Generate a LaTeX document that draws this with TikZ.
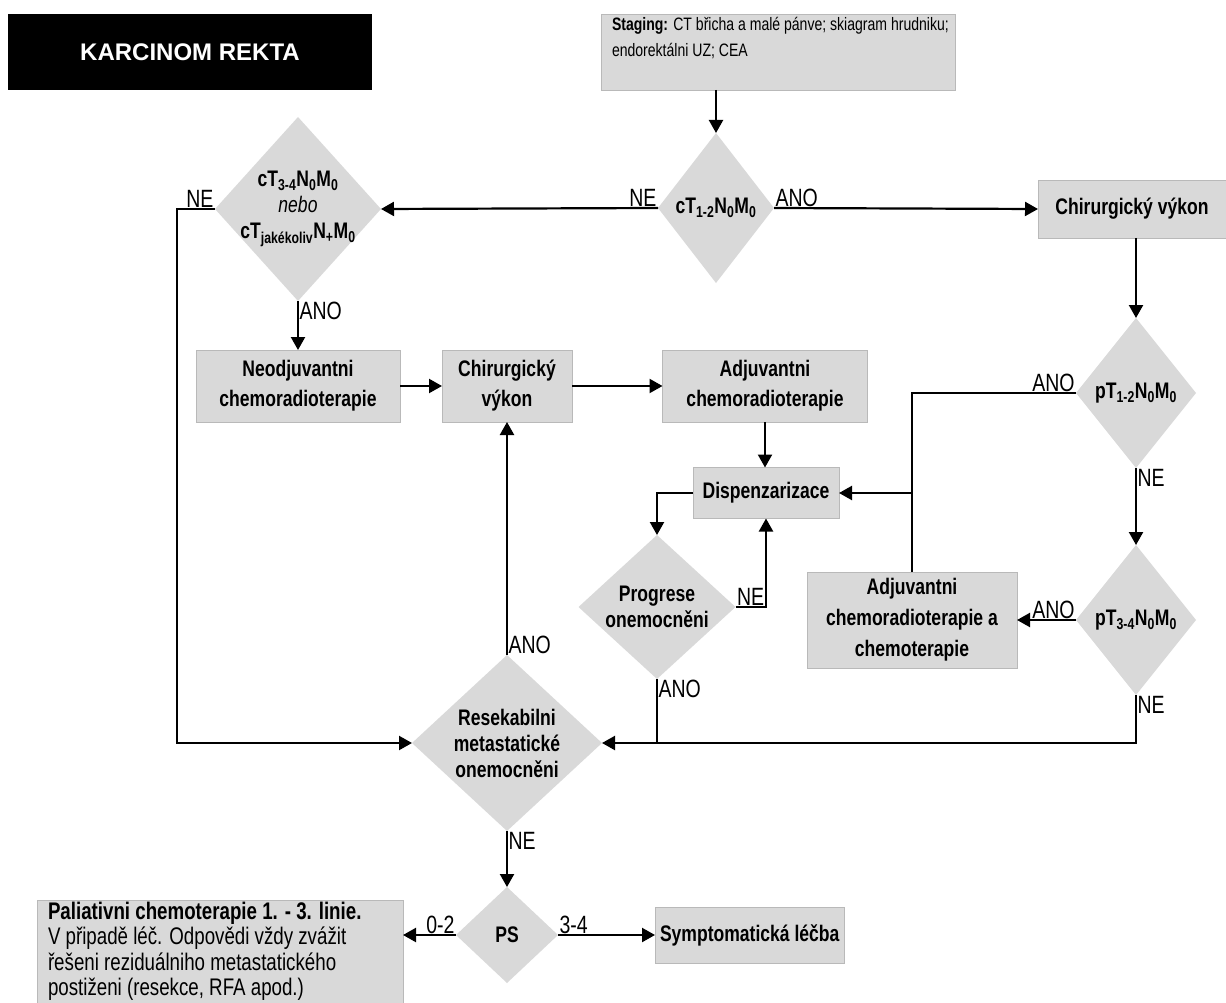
\documentclass[tikz,border=0pt]{standalone}
\usepackage{fontspec}
\setmainfont{Liberation Sans}
\newfontfamily\nar{Liberation Sans}[FakeStretch=0.78]
\usetikzlibrary{shapes.geometric,arrows.meta}
\definecolor{boxgray}{RGB}{217,217,217}
\definecolor{edgegray}{RGB}{185,185,185}
\newcommand{\lsub}[1]{\textsubscript{#1}}
\begin{document}
\begin{tikzpicture}[x=1pt,y=-1pt,
  every node/.style={inner sep=0pt, outer sep=0pt},
  boxn/.style={rectangle, fill=boxgray, draw=edgegray, line width=0.8pt, align=center, font=\nar\bfseries\fontsize{22.5}{30}\selectfont},
  dia/.style={diamond, fill=boxgray, draw=none, inner sep=0pt},
  dtext/.style={align=center, font=\nar\bfseries\fontsize{22.5}{26}\selectfont},
  lab/.style={font=\nar\fontsize{25}{27}\selectfont, inner sep=1.5pt},
  arr/.style={line width=2.2pt, -{Triangle[length=13pt,width=14pt]}},
  ln/.style={line width=2.2pt},
]
\useasboundingbox (0,0) rectangle (1226,1003);

% title
\node[fill=black, minimum width=364, minimum height=76, text=white, font=\bfseries\fontsize{24}{28}\selectfont] (title) at (190,52) {KARCINOM REKTA};

% staging
\node[boxn, anchor=north west, minimum width=354, minimum height=76] (staging) at (601,14) {};
\node[anchor=north west, align=left, font=\nar\fontsize{18}{26.5}\selectfont] (stagingtext) at (612,17) {\textbf{Staging:} CT břicha a malé pánve; skiagram hrudniku;\\endorektálni UZ; CEA};

% nodes
\node[boxn, minimum width=188, minimum height=58] (chir1) at (1132,209) {Chirurgický výkon};
\node[dia, minimum width=116, minimum height=150] (d1) at (716,208) {};
\node[dtext] (d1t) at (d1) {cT\lsub{1-2}N\lsub{0}M\lsub{0}};
\node[dia, minimum width=166, minimum height=184] (d2) at (298,209) {};
\node[dtext] (d2t) at (d2) {cT\lsub{3-4}N\lsub{0}M\lsub{0}\\{\mdseries\itshape nebo}\\cT\lsub{jakékoliv}N\lsub{+}M\lsub{0}};

\node[boxn, minimum width=204, minimum height=72] (neo) at (298,386) {Neodjuvantni\\chemoradioterapie};
\node[boxn, minimum width=130, minimum height=72] (chir2) at (507,386) {Chirurgický\\výkon};
\node[boxn, minimum width=205, minimum height=72] (adj) at (765,386) {Adjuvantni\\chemoradioterapie};
\node[boxn, minimum width=146, minimum height=51] (disp) at (766,493) {Dispenzarizace};

\node[dia, minimum width=157, minimum height=144] (prog) at (657,607) {};
\node[dtext] (progt) at (prog) {Progrese\\onemocněni};

\node[dia, minimum width=120, minimum height=150] (pt12) at (1136,393) {};
\node[dtext] (pt12t) at (pt12) {pT\lsub{1-2}N\lsub{0}M\lsub{0}};
\node[dia, minimum width=120, minimum height=150] (pt34) at (1136,620) {};
\node[dtext] (pt34t) at (pt34) {pT\lsub{3-4}N\lsub{0}M\lsub{0}};

\node[boxn, minimum width=210, minimum height=96, font=\nar\bfseries\fontsize{22.5}{31}\selectfont] (adj2) at (912,620) {Adjuvantni\\chemoradioterapie a\\chemoterapie};

\node[dia, minimum width=190, minimum height=176] (res) at (507,743) {};
\node[dtext] (rest) at (res) {Resekabilni\\metastatické\\onemocněni};

\node[dia, minimum width=102, minimum height=96] (ps) at (507,935) {};
\node[dtext] (pst) at (ps) {PS};

\node[boxn, anchor=west, inner xsep=5pt, minimum height=56] (sym) at (655,935) {Symptomatická léčba};

\node[boxn, anchor=north west, minimum width=366, minimum height=103] (pal) at (37,900) {};
\node[anchor=north west, align=left, font=\nar\fontsize{24}{25.5}\selectfont] (paltext) at (48,902) {\textbf{Paliativni chemoterapie 1. - 3. linie.}\\V připadě léč. Odpovědi vždy zvážit\\řešeni reziduálniho metastatického\\postiženi (resekce, RFA apod.)};

% connectors
\draw[arr] (staging.south -| d1.north) -- (d1.north);
\draw[arr] (d1.west) node[lab, anchor=south east] (l1) {NE} -- (d2.east);
\draw[arr] (d1.east) node[lab, anchor=south west] (l2) {ANO} -- (chir1.west);
\draw[arr] (d2.west) node[lab, anchor=south east] (l3) {NE} -- ++(-38,0) |- (res.west);
\draw[arr] (d2.south) node[lab, anchor=north west] (l4) {ANO} -- (neo.north);
\draw[arr] (neo.east) -- (chir2.west);
\draw[arr] (chir2.east) -- (adj.west);
\draw[arr] (adj.south) -- (adj.south |- disp.north);
\draw[arr] (chir1.south -| pt12.north) -- (pt12.north);
\coordinate (j) at (912,493);
\draw[arr] (pt12.west) node[lab, anchor=south east] (l5) {ANO} -| (j) -- (disp.east);
\draw[ln] (adj2.north) -- (j);
\draw[arr] (pt12.south) node[lab, anchor=north west] (l6) {NE} -- (pt34.north);
\draw[arr] (pt34.west) node[lab, anchor=south east] (l7) {ANO} -- (adj2.east);
\draw[arr] (pt34.south) node[lab, anchor=north west] (l8) {NE} |- (res.east);
\draw[arr] (disp.west) -| (prog.north);
\draw[arr] (prog.east) node[lab, anchor=south west] (l9) {NE} -| (disp.south);
\draw[ln] (prog.south) node[lab, anchor=north west] (l10) {ANO} -- (prog.south |- res.east);
\draw[arr] (res.north) node[lab, anchor=south west] (l11) {ANO} -- (res.north |- chir2.south);
\draw[arr] (res.south) node[lab, anchor=north west] (l12) {NE} -- (ps.north);
\draw[arr] (ps.west) node[lab, anchor=south east] (l13) {0-2} -- (ps.west -| pal.east);
\draw[arr] (ps.east) node[lab, anchor=south west] (l14) {3-4} -- (sym.west);
\end{tikzpicture}
\end{document}
